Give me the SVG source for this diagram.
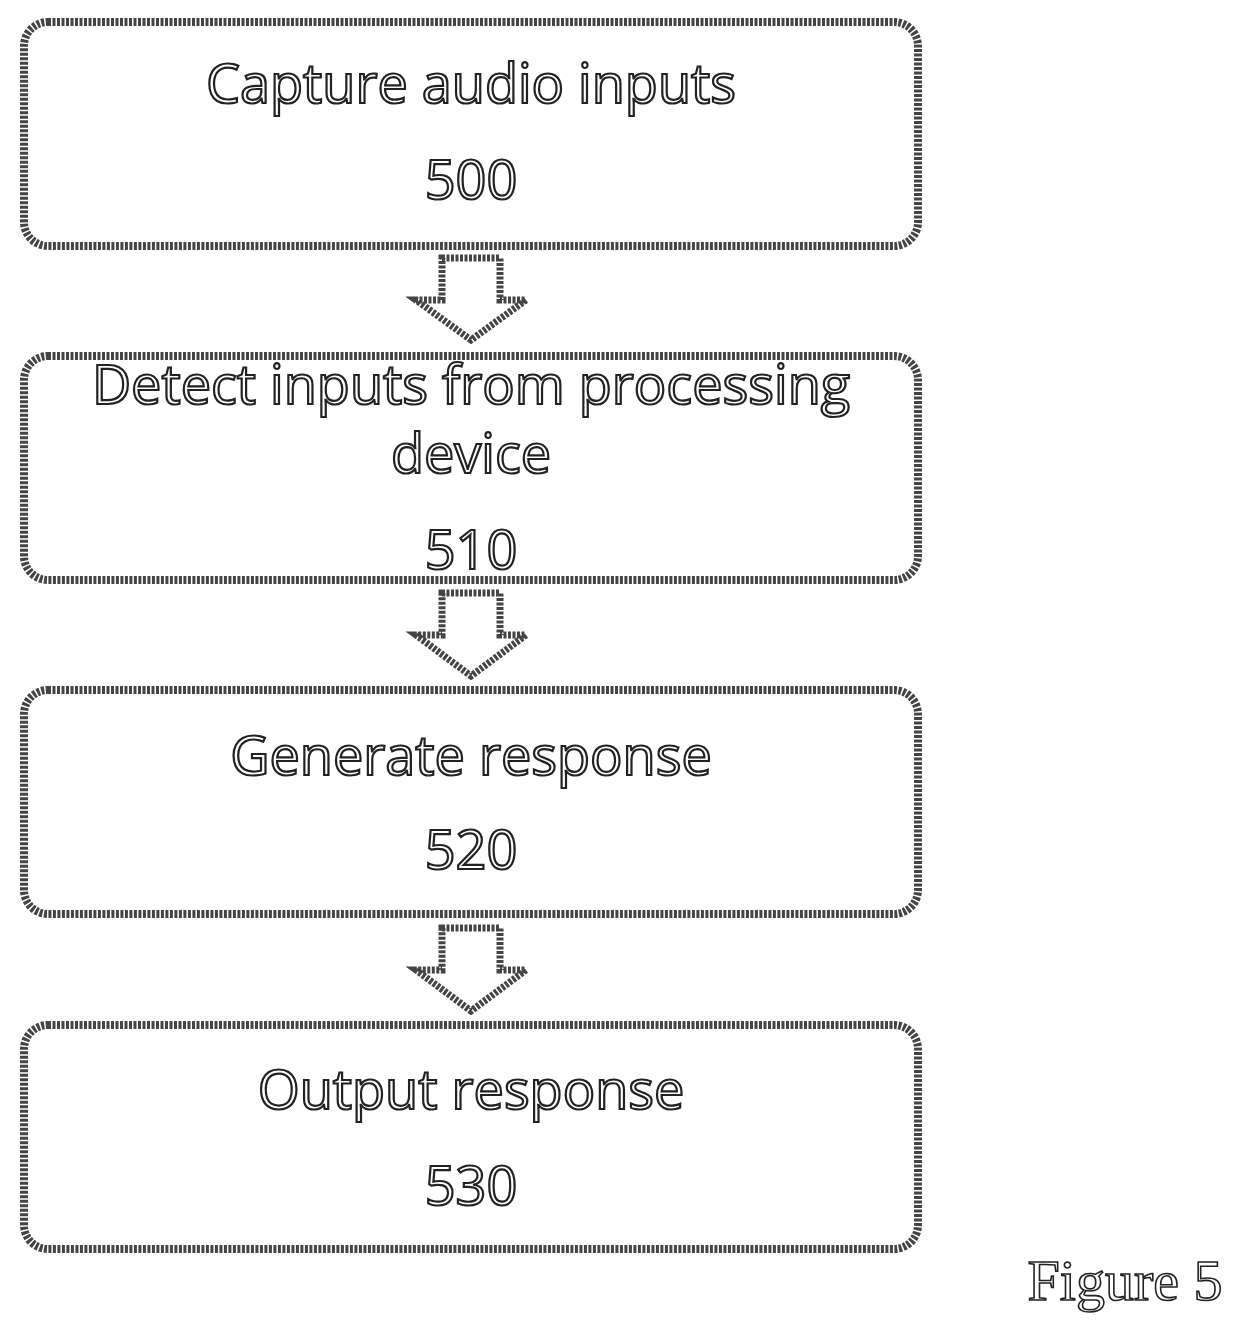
<svg xmlns="http://www.w3.org/2000/svg" width="1248" height="1335" viewBox="0 0 1248 1335">
<style>
.box{fill:#fff;stroke:#444;stroke-width:8;stroke-dasharray:3 1.5}
.t{font-family:"Open Sans","Liberation Sans",sans-serif;font-size:54px;text-anchor:middle;fill:#fff;stroke:#222;stroke-width:2.2}
.arr{fill:#fff;stroke:#444;stroke-width:7;stroke-dasharray:3 1.5;stroke-linejoin:miter}
</style>
<rect width="1248" height="1335" fill="#fff"/>
<g id="n500"><rect class="box" x="24" y="22" width="894" height="224" rx="24"/><text class="t" x="471" y="103">Capture audio inputs</text><text class="t" x="471" y="199">500</text></g>
<g id="n510"><rect class="box" x="24" y="356" width="894" height="224" rx="24"/><text class="t" x="471" y="404">Detect inputs from processing</text><text class="t" x="471" y="473">device</text><text class="t" x="471" y="569">510</text></g>
<g id="n520"><rect class="box" x="24" y="690" width="894" height="224" rx="24"/><text class="t" x="471" y="775">Generate response</text><text class="t" x="471" y="869">520</text></g>
<g id="n530"><rect class="box" x="24" y="1025" width="894" height="224" rx="24"/><text class="t" x="471" y="1109">Output response</text><text class="t" x="471" y="1205">530</text></g>
<g id="connectors">
<path class="arr" d="M442 258H500V300H526L471 340L416 300H442Z"/>
<path class="arr" d="M442 593H500V635H526L471 676L416 635H442Z"/>
<path class="arr" d="M442 928H500V970H526L471 1011L416 970H442Z"/>
</g>
<text x="1125" y="1300" font-family="Liberation Serif,serif" font-size="58" text-anchor="middle" fill="#fff" stroke="#222" stroke-width="1.6">Figure 5</text>
</svg>
